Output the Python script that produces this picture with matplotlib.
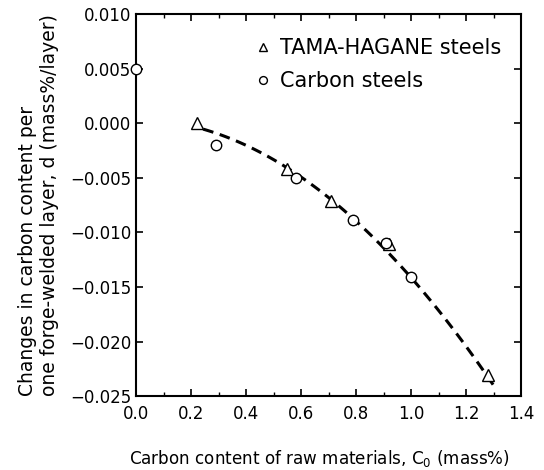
import numpy as np
import matplotlib.pyplot as plt
from matplotlib.ticker import MultipleLocator, FuncFormatter

plt.rcParams['font.family'] = ['DejaVu Sans']

# TAMA-HAGANE steels
tama_c = [0.22, 0.55, 0.71, 0.92, 1.28]
tama_d = [0.0000, -0.0042, -0.0071, -0.0111, -0.0231]

# Carbon steels
carb_c = [0.00, 0.29, 0.58, 0.79, 0.91, 1.00]
carb_d = [0.0050, -0.0020, -0.0050, -0.0089, -0.0110, -0.0141]

# points
curve_c = [0.244, 0.404, 0.545, 0.709, 0.796, 0.909, 0.993, 1.298]
curve_d = [-0.0004, -0.0022, -0.0041, -0.0071, -0.0089, -0.0112, -0.0141, -0.0240]

fig = plt.figure(figsize=(5.44, 4.70), dpi=100)
ax = fig.add_axes([0.25, 0.157, 0.708, 0.813])

# smooth quadratic through the curve points
coef = np.polyfit(curve_c, curve_d, 2)
xf = np.linspace(curve_c[0], curve_c[-1], 100)
ax.plot(xf, np.polyval(coef, xf), color='black', lw=2.2, ls=(0, (3.5, 2.2)), zorder=1)

ax.plot(tama_c, tama_d, ls='none', marker='^', ms=8, mfc='white', mec='black',
        mew=1.0, label='TAMA-HAGANE steels', zorder=3)
ax.plot(carb_c, carb_d, ls='none', marker='o', ms=7.5, mfc='white', mec='black',
        mew=1.0, label='Carbon steels', zorder=3, clip_on=False)

ax.set_xlim(0, 1.4)
ax.set_ylim(-0.025, 0.010)
ax.xaxis.set_major_locator(MultipleLocator(0.2))
ax.xaxis.set_minor_locator(MultipleLocator(0.1))
ax.yaxis.set_major_locator(MultipleLocator(0.005))


def yfmt(v, p):
    s = f'{abs(v):.3f}'
    return '\u2212' + s if v < -1e-9 else s


ax.yaxis.set_major_formatter(FuncFormatter(yfmt))
ax.xaxis.set_major_formatter(FuncFormatter(lambda v, p: f'{v:.1f}'))

ax.tick_params(which='both', direction='in', top=True, right=True, labelsize=12)
ax.tick_params(which='major', length=5, width=1.2)
ax.tick_params(which='minor', length=3, width=1.0)
ax.tick_params(axis='x', pad=6)
for s in ax.spines.values():
    s.set_linewidth(1.5)

ax.set_xlabel('Carbon content of raw materials, C$_0$ (mass%)', fontsize=12.1)
ax.xaxis.set_label_coords(0.475, -0.135)
ax.set_ylabel('Changes in carbon content per\none forge-welded layer, d (mass%/layer)',
              fontsize=13.5, labelpad=8, linespacing=1.2)
ax.yaxis.label.set_multialignment('left')

ax.legend(loc='upper left', bbox_to_anchor=(0.255, 0.987), frameon=False, fontsize=15,
          handletextpad=0.3, markerscale=0.75, handlelength=1.0, labelspacing=0.65)

fig.savefig('out.png', dpi=100)
